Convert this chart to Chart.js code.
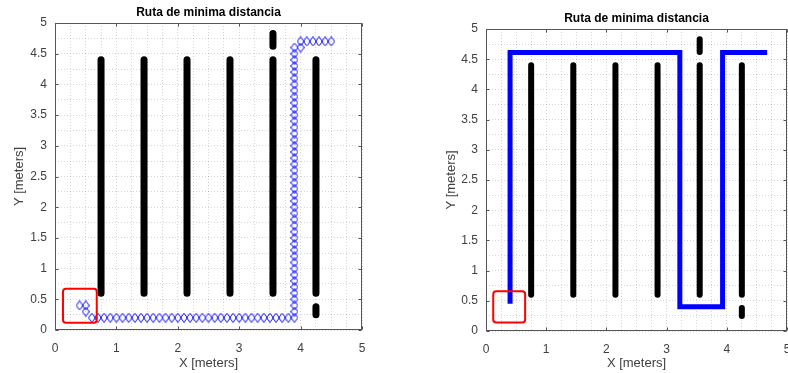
<!DOCTYPE html>
<html>
<head>
<meta charset="utf-8">
<title>Ruta de minima distancia</title>
<script src="https://cdn.jsdelivr.net/npm/chart.js@4.4.1/dist/chart.umd.min.js"></script>
<style>
  body { margin: 0; background: #fff; }
  canvas { position: absolute; top: 0; }
  #left { left: 0; }
  #right { left: 394px; }
</style>
</head>
<body>
<canvas id="left" width="394" height="373"></canvas>
<canvas id="right" width="394" height="373"></canvas>
<script>
// obstaculos (mismo mapa en las dos figuras)
const obsX = [0.75, 1.45, 2.15, 2.85, 3.55, 3.55, 4.25, 4.25];
const obsYStart = [0.6, 0.6, 0.6, 0.6, 0.6, 4.62, 0.6, 0.25];
const obsYEnd = [4.4, 4.4, 4.4, 4.4, 4.4, 4.83, 4.4, 0.38];

// figura izquierda: ruta con marcadores de diamante
const startSteps = [[0.4, 0.4], [0.5, 0.4], [0.5, 0.3]];
const bottomY = 0.2;
const bottomRunX = [0.6, 0.7, 0.8, 0.9, 1.0, 1.1, 1.2, 1.3, 1.4, 1.5, 1.6, 1.7,
  1.8, 1.9, 2.0, 2.1, 2.2, 2.3, 2.4, 2.5, 2.6, 2.7, 2.8, 2.9, 3.0, 3.1, 3.2,
  3.3, 3.4, 3.5, 3.6, 3.7, 3.8, 3.9];
const riseX = 3.9;
const riseY = [0.3, 0.4, 0.5, 0.6, 0.7, 0.8, 0.9, 1.0, 1.1, 1.2, 1.3, 1.4, 1.5,
  1.6, 1.7, 1.8, 1.9, 2.0, 2.1, 2.2, 2.3, 2.4, 2.5, 2.6, 2.7, 2.8, 2.9, 3.0,
  3.1, 3.2, 3.3, 3.4, 3.5, 3.6, 3.7, 3.8, 3.9, 4.0, 4.1, 4.2, 4.3, 4.4, 4.5, 4.6];
const endSteps = [[4.0, 4.6], [4.0, 4.7], [4.1, 4.7], [4.2, 4.7], [4.3, 4.7],
  [4.4, 4.7], [4.5, 4.7]];

// figura derecha: ruta continua
const routeX = [0.4, 0.4, 3.22, 3.22, 3.93, 3.93, 4.67];
const routeY = [0.45, 4.61, 4.61, 0.4, 0.4, 4.61, 4.61];

// recuadro rojo del punto de inicio [x0, y0, x1, y1]
const boxLeft = [0.13, 0.12, 0.68, 0.67];
const boxRight = [0.12, 0.14, 0.65, 0.66];

const xLabels = [0, 1, 2, 3, 4, 5];
const yLabels = [0, 0.5, 1, 1.5, 2, 2.5, 3, 3.5, 4, 4.5, 5];

const obstacleData = [];
obsX.forEach((x, i) => {
  obstacleData.push({ x, y: obsYStart[i] }, { x, y: obsYEnd[i] }, { x, y: null });
});

const pathData = [];
startSteps.forEach(([x, y]) => pathData.push({ x, y }));
bottomRunX.forEach((x) => pathData.push({ x, y: bottomY }));
riseY.forEach((y) => pathData.push({ x: riseX, y }));
endSteps.forEach(([x, y]) => pathData.push({ x, y }));

const routeData = routeX.map((x, i) => ({ x, y: routeY[i] }));

// marcador de diamante algo mas alto que ancho
function diamond(w, h, color) {
  const c = document.createElement("canvas");
  c.width = w;
  c.height = h;
  const g = c.getContext("2d");
  g.strokeStyle = color;
  g.lineWidth = 1;
  g.beginPath();
  g.moveTo(w / 2, 0.5);
  g.lineTo(w - 0.5, h / 2);
  g.lineTo(w / 2, h - 0.5);
  g.lineTo(0.5, h / 2);
  g.closePath();
  g.stroke();
  return c;
}

// caja de ejes, marcas hacia dentro y recuadro rojo
const framePlugin = {
  id: "frame",
  afterDatasetsDraw(chart, args, opts) {
    const { ctx, chartArea: a, scales } = chart;
    const sx = scales.x, sy = scales.y;
    ctx.save();
    if (opts.box) {
      const [x0, y0, x1, y1] = opts.box;
      const px0 = sx.getPixelForValue(x0), px1 = sx.getPixelForValue(x1);
      const py0 = sy.getPixelForValue(y1), py1 = sy.getPixelForValue(y0);
      ctx.strokeStyle = "#ff0000";
      ctx.lineWidth = 2;
      ctx.beginPath();
      ctx.roundRect(px0, py0, px1 - px0, py1 - py0, 3);
      ctx.stroke();
    }
    ctx.strokeStyle = "#555";
    ctx.lineWidth = 1;
    const L = Math.round(a.left) + 0.5, R = Math.round(a.right) - 0.5;
    const T = Math.round(a.top) + 0.5, B = Math.round(a.bottom) - 0.5;
    ctx.strokeRect(L, T, R - L, B - T);
    ctx.beginPath();
    xLabels.forEach((v) => {
      const p = Math.round(sx.getPixelForValue(v)) + 0.5;
      ctx.moveTo(p, B); ctx.lineTo(p, B - 3);
      ctx.moveTo(p, T); ctx.lineTo(p, T + 3);
    });
    yLabels.forEach((v) => {
      const p = Math.round(sy.getPixelForValue(v)) + 0.5;
      ctx.moveTo(L, p); ctx.lineTo(L + 3, p);
      ctx.moveTo(R, p); ctx.lineTo(R - 3, p);
    });
    ctx.stroke();
    ctx.restore();
  },
};

function makeChart(id, datasets, cfg) {
  const tickFont = { family: "'Liberation Sans', Arial, sans-serif", size: 12 };
  const titleFont = { family: "'Liberation Sans', Arial, sans-serif", size: 13 };
  const grid = { color: "rgba(0,0,0,0.16)", lineWidth: 1, drawTicks: false };
  return new Chart(document.getElementById(id), {
    type: "line",
    data: { datasets },
    plugins: [framePlugin],
    options: {
      responsive: false,
      animation: false,
      devicePixelRatio: 1,
      layout: { padding: cfg.padding },
      plugins: {
        legend: { display: false },
        tooltip: { enabled: false },
        title: {
          display: true,
          text: "Ruta de minima distancia",
          fullSize: false,
          color: "#000",
          font: { family: "'Liberation Sans', Arial, sans-serif", size: 12, weight: "bold" },
          padding: cfg.titlePad,
        },
        frame: { box: cfg.box },
      },
      scales: {
        x: {
          type: "linear",
          min: 0,
          max: 5,
          grid,
          border: { display: false, dash: [1, 2] },
          ticks: {
            stepSize: 0.25,
            autoSkip: false,
            maxRotation: 0,
            padding: 11,
            color: "#404040",
            font: tickFont,
            callback: (v) => (xLabels.includes(v) ? String(v) : ""),
          },
          title: {
            display: true,
            text: "X [meters]",
            color: "#404040",
            font: titleFont,
            padding: { top: 0, bottom: 2.2 },
          },
          afterFit: (s) => {
            s.height = cfg.xHeight;
            s.paddingLeft = 0;
            s.paddingRight = 0;
          },
        },
        y: {
          type: "linear",
          min: 0,
          max: 5,
          grid,
          border: { display: false, dash: [1, 2] },
          ticks: {
            stepSize: 0.25,
            autoSkip: false,
            padding: 8,
            color: "#404040",
            font: tickFont,
            callback: (v) => (yLabels.includes(v) ? String(v) : ""),
          },
          title: {
            display: true,
            text: "Y [meters]",
            color: "#404040",
            font: titleFont,
            padding: { top: cfg.yTitlePad, bottom: 0 },
          },
          afterFit: (s) => {
            s.width = cfg.yWidth;
            s.paddingTop = 0;
            s.paddingBottom = 0;
          },
        },
      },
    },
  });
}

const obstacles = (w) => ({
  data: obstacleData,
  borderColor: "#000",
  borderWidth: w,
  borderCapStyle: "round",
  pointRadius: 0,
  spanGaps: false,
  order: 2,
});

makeChart("left", [
  {
    data: pathData,
    showLine: false,
    pointStyle: diamond(8, 10, "#0000ff"),
    pointRadius: 4,
    order: 1,
  },
  obstacles(7),
], {
  padding: { left: 0, right: 32, top: 0, bottom: 0 },
  titlePad: { top: 5.3, bottom: 3.3 },
  xHeight: 43,
  yWidth: 55,
  yTitlePad: 11.2,
  box: boxLeft,
});

makeChart("right", [
  {
    data: routeData,
    borderColor: "#0000ff",
    borderWidth: 5,
    borderJoinStyle: "miter",
    pointRadius: 0,
    order: 1,
  },
  obstacles(6),
], {
  padding: { left: 0, right: 1, top: 0, bottom: 0 },
  titlePad: { top: 11.8, bottom: 2.8 },
  xHeight: 42,
  yWidth: 92,
  yTitlePad: 49.2,
  box: boxRight,
});
</script>
</body>
</html>
